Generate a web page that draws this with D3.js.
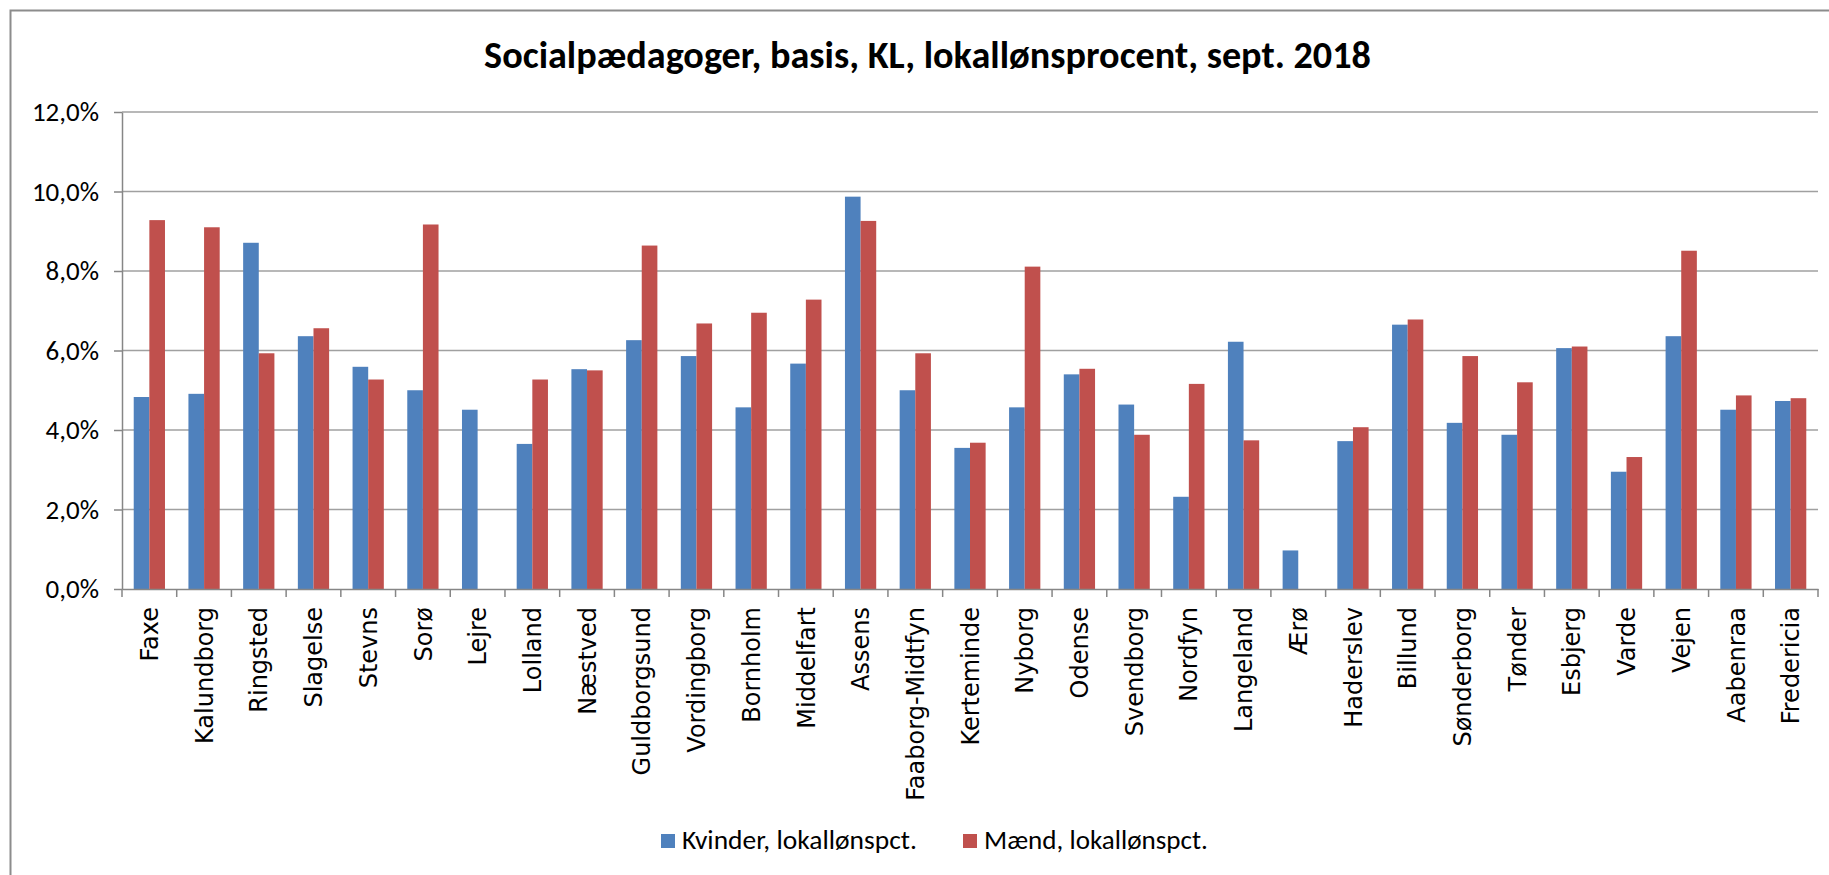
<!DOCTYPE html>
<html>
<head>
<meta charset="utf-8">
<script src="https://cdn.jsdelivr.net/npm/d3@7"></script>
<style>
  body { margin: 0; background: #fff; }
  svg { display: block; }
</style>
</head>
<body>
<svg id="chart" width="1829" height="875"></svg>
<script>
const chartTitle = "Socialpædagoger, basis, KL, lokallønsprocent, sept. 2018";

const categories = [
  "Faxe", "Kalundborg", "Ringsted", "Slagelse", "Stevns", "Sorø", "Lejre", "Lolland",
  "Næstved", "Guldborgsund", "Vordingborg", "Bornholm", "Middelfart", "Assens",
  "Faaborg-Midtfyn", "Kerteminde", "Nyborg", "Odense", "Svendborg", "Nordfyn",
  "Langeland", "Ærø", "Haderslev", "Billund", "Sønderborg", "Tønder", "Esbjerg",
  "Varde", "Vejen", "Aabenraa", "Fredericia"
];

// lokallønsprocent, kvinder
const kvinder = [
  4.83, 4.91, 8.71, 6.36, 5.59, 5.00, 4.51, 3.65, 5.53, 6.26,
  5.86, 4.57, 5.67, 9.87, 5.00, 3.55, 4.57, 5.40, 4.64, 2.32,
  6.22, 0.97, 3.72, 6.65, 4.18, 3.88, 6.06, 2.95, 6.36, 4.51, 4.73
];

// lokallønsprocent, mænd (null = ingen værdi)
const maend = [
  9.28, 9.10, 5.93, 6.56, 5.27, 9.17, null, 5.27, 5.50, 8.64,
  6.68, 6.95, 7.28, 9.26, 5.93, 3.68, 8.11, 5.54, 3.88, 5.16,
  3.74, null, 4.07, 6.78, 5.86, 5.20, 6.10, 3.32, 8.51, 4.87, 4.80
];

const seriesNames = ["Kvinder, lokallønspct.", "Mænd, lokallønspct."];
const yTicks = [0, 2, 4, 6, 8, 10, 12];

const colors = ["#4f81bd", "#c0504d"];
const bodyFont = "Carlito, Calibri, Lato, sans-serif";
const labelFont = "'DejaVu Sans', Verdana, sans-serif";

const svg = d3.select("#chart");
const plot = { left: 122, right: 1818, top: 112, bottom: 589 };

svg.append("rect")
  .attr("width", 1829)
  .attr("height", 875)
  .attr("fill", "#fff");

// chart area border (right and bottom sides fall outside the picture)
svg.append("rect")
  .attr("x", 10.5)
  .attr("y", 10.5)
  .attr("width", 1850)
  .attr("height", 900)
  .attr("fill", "none")
  .attr("stroke", "#8c8c8c")
  .attr("stroke-width", 2);

const x = d3.scaleBand()
  .domain(categories)
  .range([plot.left, plot.right]);

const xSeries = d3.scaleBand()
  .domain(d3.range(seriesNames.length))
  .range([0, x.bandwidth()])
  .paddingOuter(0.75);

const y = d3.scaleLinear()
  .domain([0, 12])
  .range([plot.bottom, plot.top]);

const formatPct = d => d.toFixed(1).replace(".", ",") + "%";

// gridlines
svg.append("g")
  .selectAll("line")
  .data(yTicks.filter(d => d > 0))
  .join("line")
  .attr("x1", plot.left)
  .attr("x2", plot.right)
  .attr("y1", d => y(d))
  .attr("y2", d => y(d))
  .attr("stroke", "#a0a0a0")
  .attr("stroke-width", 1.5);

// bars
const series = [kvinder, maend];
series.forEach((values, s) => {
  svg.append("g")
    .selectAll("rect")
    .data(categories.map((c, i) => ({ c, v: values[i] })).filter(d => d.v != null))
    .join("rect")
    .attr("x", d => x(d.c) + xSeries(s))
    .attr("width", xSeries.bandwidth())
    .attr("y", d => y(d.v))
    .attr("height", d => y(0) - y(d.v))
    .attr("fill", colors[s]);
});

// y axis
const yAxis = svg.append("g")
  .attr("transform", `translate(${plot.left},0)`)
  .call(d3.axisLeft(y).tickValues(yTicks).tickSize(8).tickSizeOuter(0).tickPadding(15).tickFormat(formatPct));

yAxis.select(".domain").attr("stroke", "#868686").attr("stroke-width", 1.5);
yAxis.selectAll(".tick line").attr("stroke", "#868686").attr("stroke-width", 1.5);
yAxis.selectAll("text")
  .attr("font-family", bodyFont)
  .attr("font-size", 27)
  .attr("fill", "#000");

// x axis
const xAxis = svg.append("g")
  .attr("transform", `translate(0,${plot.bottom})`)
  .call(d3.axisBottom(x).tickSize(0).tickSizeOuter(0).tickPadding(0));

xAxis.select(".domain").attr("stroke", "#868686").attr("stroke-width", 1.5);
xAxis.selectAll("text")
  .attr("font-family", labelFont)
  .attr("font-size", 24)
  .attr("fill", "#000")
  .attr("text-anchor", "end")
  .attr("x", -18)
  .attr("y", 0)
  .attr("dy", "0.36em")
  .attr("transform", "rotate(-90)");

// tick marks between categories
const boundaries = categories.map(c => x(c)).concat([plot.right]);
svg.append("g")
  .selectAll("line")
  .data(boundaries)
  .join("line")
  .attr("x1", d => d)
  .attr("x2", d => d)
  .attr("y1", plot.bottom)
  .attr("y2", plot.bottom + 8)
  .attr("stroke", "#868686")
  .attr("stroke-width", 1.5);

// title
const title = svg.append("text")
  .attr("x", 927.5)
  .attr("y", 68)
  .attr("text-anchor", "middle")
  .attr("font-family", bodyFont)
  .attr("font-weight", "bold")
  .attr("font-size", 36)
  .attr("fill", "#000")
  .text(chartTitle);
fitWidth(title, 887);

// legend
const legendItems = [
  { name: seriesNames[0], color: colors[0], x: 661, textWidth: 235 },
  { name: seriesNames[1], color: colors[1], x: 963, textWidth: 224 }
];

legendItems.forEach(item => {
  svg.append("rect")
    .attr("x", item.x)
    .attr("y", 834)
    .attr("width", 14)
    .attr("height", 14)
    .attr("fill", item.color);

  const label = svg.append("text")
    .attr("x", item.x + 21)
    .attr("y", 849)
    .attr("font-family", bodyFont)
    .attr("font-size", 26)
    .attr("fill", "#000")
    .text(item.name);
  fitWidth(label, item.textWidth);
});

function fitWidth(text, target) {
  const width = text.node().getComputedTextLength();
  const size = parseFloat(text.attr("font-size"));
  if (width > 0) text.attr("font-size", size * target / width);
}
</script>
</body>
</html>
